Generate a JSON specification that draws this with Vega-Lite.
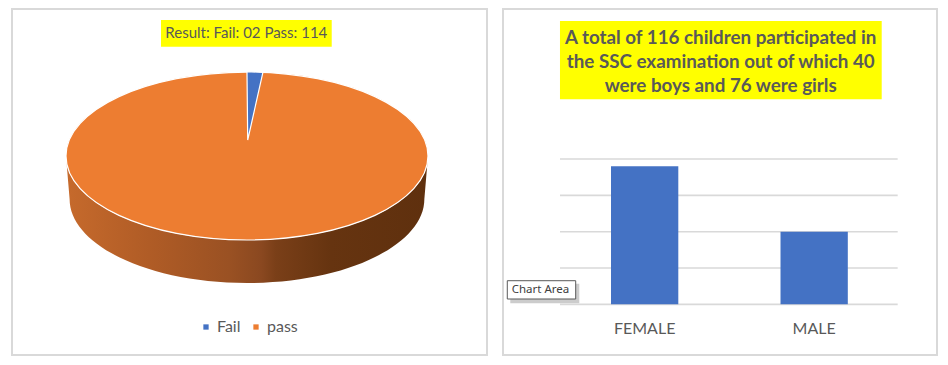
{
  "$schema": "https://vega.github.io/schema/vega-lite/v6.json",
  "background": "white",
  "padding": {"left": 11, "top": 8, "right": 0, "bottom": 0},
  "spacing": 14,
  "config": {"view": {"stroke": "#d9d9d9", "strokeWidth": 2}},
  "datasets": {
    "result": [{"result": "Fail", "count": 2}, {"result": "pass", "count": 114}],
    "gender": [{"gender": "FEMALE", "count": 76}, {"gender": "MALE", "count": 40}],
    "ticks": [{"v": 0}, {"v": 20}, {"v": 40}, {"v": 60}, {"v": 80}]
  },
  "hconcat": [
    {
      "width": 475,
      "height": 346,
      "layer": [
        {
          "data": {"name": "result"},
          "transform": [{"filter": "datum.result === 'pass'"}],
          "mark": {
            "type": "point",
            "shape": "M-1,0L-0.98,0.2376C-0.98,0.4939,-0.5413,0.7016,0,0.7016C0.5413,0.7016,0.98,0.4939,0.98,0.2376L1,0C1,0.2563,0.5523,0.464,0,0.464C-0.5523,0.464,-1,0.2563,-1,0Z",
            "filled": true,
            "size": 131044,
            "opacity": 1,
            "strokeWidth": 0,
            "fill": {
              "gradient": "linear", "x1": 0, "y1": 0, "x2": 1, "y2": 0,
              "stops": [
                {"offset": 0, "color": "#c66a2c"},
                {"offset": 0.23, "color": "#b05c26"},
                {"offset": 0.45, "color": "#9a5123"},
                {"offset": 0.54, "color": "#8a4820"},
                {"offset": 0.58, "color": "#7a3f18"},
                {"offset": 0.73, "color": "#663410"},
                {"offset": 1, "color": "#5f300e"}
              ]
            }
          },
          "encoding": {
            "x": {"datum": 0.4947, "type": "quantitative", "scale": {"domain": [0, 1], "nice": false, "zero": false}, "axis": null},
            "y": {"datum": 0.5751, "type": "quantitative", "scale": {"domain": [0, 1], "nice": false, "zero": false}, "axis": null}
          }
        },
        {
          "data": {"name": "result"},
          "transform": [{"filter": "datum.result === 'pass'"}],
          "mark": {
            "type": "point", "filled": true, "size": 131044, "opacity": 1, "stroke": "white", "strokeWidth": 1.2,
            "shape": "M-1,0C-1,-0.2563,-0.5523,-0.464,0,-0.464C0.5523,-0.464,1,-0.2563,1,0C1,0.2563,0.5523,0.464,0,0.464C-0.5523,0.464,-1,0.2563,-1,0Z"
          },
          "encoding": {
            "x": {"datum": 0.4947, "type": "quantitative", "axis": null},
            "y": {"datum": 0.5751, "type": "quantitative", "axis": null},
            "color": {
              "field": "result", "type": "nominal",
              "scale": {"domain": ["Fail", "pass"], "range": ["#4472C4", "#ED7D31"]},
              "legend": {
                "title": null, "orient": "none", "legendX": 186, "legendY": 310,
                "direction": "horizontal", "symbolType": "square", "symbolSize": 28,
                "symbolStrokeWidth": 0, "labelFont": "Lato", "labelFontSize": 16,
                "labelColor": "#595959", "labelOffset": 3, "columnPadding": 7, "padding": 0
              }
            }
          }
        },
        {
          "data": {"name": "result"},
          "transform": [{"filter": "datum.result === 'Fail'"}],
          "mark": {
            "type": "point", "filled": true, "size": 131044, "opacity": 1, "stroke": "white", "strokeWidth": 1.2,
            "shape": "M0.004,-0.088L0,-0.466L0.088,-0.462Z"
          },
          "encoding": {
            "x": {"datum": 0.4947, "type": "quantitative", "axis": null},
            "y": {"datum": 0.5751, "type": "quantitative", "axis": null},
            "color": {"field": "result", "type": "nominal"}
          }
        },
        {
          "data": {"values": [{}]},
          "mark": {"type": "rect", "fill": "#FFFF00"},
          "encoding": {
            "x": {"datum": 0.3137, "type": "quantitative", "axis": null},
            "x2": {"datum": 0.6731},
            "y": {"datum": 0.9682, "type": "quantitative", "axis": null},
            "y2": {"datum": 0.891}
          }
        },
        {
          "data": {"values": [{}]},
          "mark": {"type": "text", "text": "Result: Fail: 02 Pass: 114", "font": "Lato", "fontSize": 15, "color": "#595959", "align": "center", "baseline": "middle"},
          "encoding": {
            "x": {"datum": 0.4933, "type": "quantitative", "axis": null},
            "y": {"datum": 0.9298, "type": "quantitative", "axis": null}
          }
        }
      ]
    },
    {
      "width": 434,
      "height": 346,
      "resolve": {"scale": {"x": "independent"}},
      "layer": [
        {
          "layer": [
            {
              "data": {"name": "ticks"},
              "mark": {"type": "rule", "color": "#d9d9d9", "strokeWidth": 1.6},
              "encoding": {
                "x": {"datum": 0.1313, "type": "quantitative", "scale": {"domain": [0, 1], "nice": false, "zero": false}, "axis": null},
                "x2": {"datum": 0.9094},
                "y": {"field": "v", "type": "quantitative", "scale": {"domain": [-27.9, 162.6], "nice": false}, "axis": null}
              }
            },
            {
              "data": {"values": [{}]},
              "mark": {"type": "rect", "fill": "#FFFF00"},
              "encoding": {
                "x": {"datum": 0.1313, "type": "quantitative", "axis": null},
                "x2": {"datum": 0.8726},
                "y": {"datum": 155.99, "type": "quantitative", "axis": null},
                "y2": {"datum": 112.88}
              }
            },
            {
              "data": {"values": [{}]},
              "mark": {
                "type": "text",
                "text": ["A total of 116 children participated in", "the SSC examination out of which 40", "were boys and 76 were girls"],
                "font": "Lato", "fontSize": 18.8, "fontWeight": "bold", "color": "#595959",
                "align": "center", "baseline": "middle", "lineHeight": 24.4
              },
              "encoding": {
                "x": {"datum": 0.5016, "type": "quantitative", "axis": null},
                "y": {"datum": 146.9, "type": "quantitative", "axis": null}
              }
            },
            {
              "data": {"values": [{}]},
              "mark": {"type": "rect", "fill": "#cccccc"},
              "encoding": {
                "x": {"datum": 0.0168, "type": "quantitative", "axis": null},
                "x2": {"datum": 0.1758},
                "y": {"datum": 11.35, "type": "quantitative", "axis": null},
                "y2": {"datum": 0.57}
              }
            },
            {
              "data": {"values": [{}]},
              "mark": {"type": "rect", "fill": "white", "stroke": "#595959", "strokeWidth": 1},
              "encoding": {
                "x": {"datum": 0.0099, "type": "quantitative", "axis": null},
                "x2": {"datum": 0.1675},
                "y": {"datum": 13.0, "type": "quantitative", "axis": null},
                "y2": {"datum": 2.93}
              }
            },
            {
              "data": {"values": [{}]},
              "mark": {"type": "text", "text": "Chart Area", "font": "Noto Sans", "fontSize": 11.5, "color": "#404040", "align": "center", "baseline": "middle"},
              "encoding": {
                "x": {"datum": 0.0864, "type": "quantitative", "axis": null},
                "y": {"datum": 7.89, "type": "quantitative", "axis": null}
              }
            }
          ]
        },
        {
          "data": {"name": "gender"},
          "mark": {"type": "bar", "color": "#4472C4"},
          "encoding": {
            "x": {
              "field": "gender", "type": "nominal",
              "scale": {"paddingInner": 0.603, "paddingOuter": 0.5817, "align": 0.5477},
              "axis": {
                "orient": "bottom", "offset": -50.7, "domain": false, "ticks": false, "tickSize": 0,
                "labelPadding": 16, "labelFont": "Lato", "labelFontSize": 16, "labelColor": "#595959",
                "labelAngle": 0, "title": null, "grid": false
              }
            },
            "y": {"field": "count", "type": "quantitative", "scale": {"domain": [-27.9, 162.6], "nice": false}, "axis": null}
          }
        }
      ]
    }
  ]
}
